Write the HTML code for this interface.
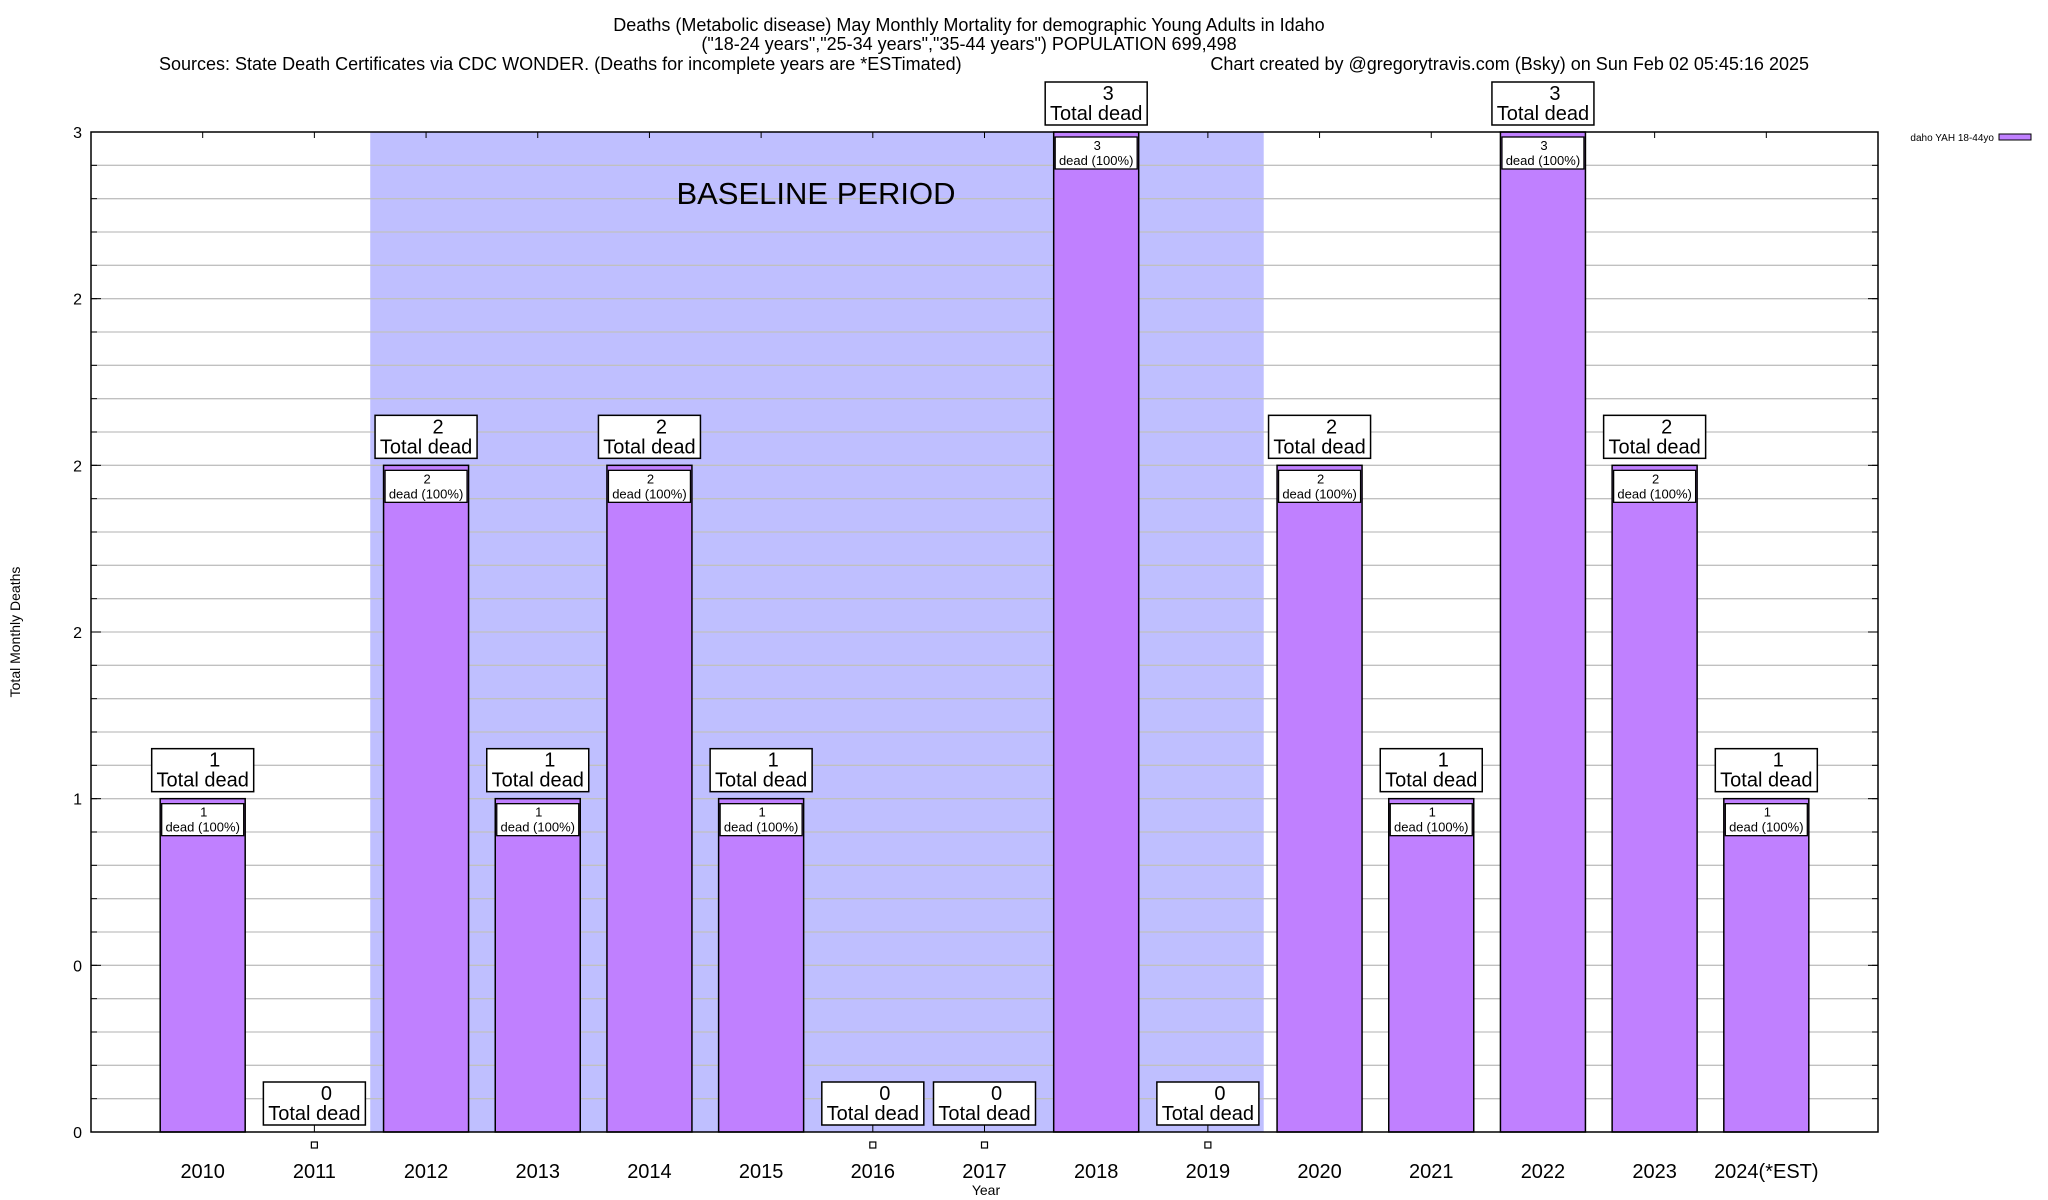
<!DOCTYPE html>
<html><head><meta charset="utf-8"><style>
html,body{margin:0;padding:0;background:#fff;}
svg{display:block;font-family:"Liberation Sans",sans-serif;}
</style></head><body>
<svg id="chart" width="2048" height="1200" viewBox="0 0 2048 1200" xmlns="http://www.w3.org/2000/svg">
<g font-size="18" text-anchor="middle" fill="#000">
<text x="969" y="31">Deaths (Metabolic disease) May Monthly Mortality for demographic Young Adults in Idaho</text>
<text x="969" y="50">("18-24 years","25-34 years","35-44 years") POPULATION 699,498</text>
<text x="159" y="70" text-anchor="start">Sources: State Death Certificates via CDC WONDER. (Deaths for incomplete years are *ESTimated)</text>
<text x="1809" y="70" text-anchor="end">Chart created by @gregorytravis.com (Bsky) on Sun Feb 02 05:45:16 2025</text>
</g>
<g id="layer"></g>
</svg>
<script>
const categories=["2010","2011","2012","2013","2014","2015","2016","2017","2018","2019","2020","2021","2022","2023","2024(*EST)"];
const deaths=[1,0,2,1,2,1,0,0,3,0,2,1,3,2,1];
const yTickValues=[0,0.5,1,1.5,2,2.5,3];
const yTickLabels=["0","0","1","2","2","2","3"];
const baselineStart=1.5, baselineEnd=9.5;

const L=91,R=1878,T=132,B=1132;
const xs=i=>L+(i+1)*(R-L)/16;
const ys=v=>B-v*(B-T)/3;
const NS="http://www.w3.org/2000/svg";
const layer=document.getElementById('layer');
function mk(tag,attrs,parent){const e=document.createElementNS(NS,tag);for(const k in attrs)e.setAttribute(k,attrs[k]);(parent||layer).appendChild(e);return e;}

// baseline shading
let sh=mk('rect',{x:xs(baselineStart),y:T,width:xs(baselineEnd)-xs(baselineStart),height:B-T,fill:'#bfbfff'});



// grid lines every 0.1
for(let k=1;k<30;k++){const v=k/10;
 let g=mk('line',{x1:L,x2:R,y1:ys(v),y2:ys(v),stroke:'#c0c0c0','stroke-width':1.3});
 
 
 mk('line',{x1:L,x2:L+6,y1:ys(v),y2:ys(v),stroke:'#000'});
 mk('line',{x1:R,x2:R-6,y1:ys(v),y2:ys(v),stroke:'#000'});
}
let bt=mk('text',{x:816,y:204,'font-size':31,'text-anchor':'middle'});bt.textContent='BASELINE PERIOD';


// y ticks
yTickValues.forEach((v,i)=>{
 mk('line',{x1:L,x2:L+10,y1:ys(v),y2:ys(v),stroke:'#000'});
 mk('line',{x1:R,x2:R-10,y1:ys(v),y2:ys(v),stroke:'#000'});
 let t=mk('text',{x:82,y:ys(v)+6,'font-size':16,'text-anchor':'end'});t.textContent=yTickLabels[i];
 
 
});

// bars
categories.forEach((c,i)=>{
 const cx=xs(i),v=deaths[i],bw=85;
 mk('line',{x1:cx,x2:cx,y1:T,y2:T+6,stroke:'#000'});
 let xl=mk('text',{x:cx,y:1178,'font-size':20,'text-anchor':'middle'});xl.textContent=c;
 
 
 if(v>0){
  let b=mk('rect',{x:cx-bw/2,y:ys(v),width:bw,height:B-ys(v),fill:'#c080ff',stroke:'#000','stroke-width':1.5});
  
  
  let sb=mk('rect',{x:cx-41,y:ys(v)+5,width:82,height:32,fill:'#fff',stroke:'#000','stroke-width':1.3});
  
  
  let s1=mk('text',{x:cx+1,y:ys(v)+18,'font-size':13,'text-anchor':'middle'});s1.textContent=v;
  let s2=mk('text',{x:cx,y:ys(v)+33,'font-size':13,'text-anchor':'middle'});s2.textContent='dead (100%)';
 } else {
  let m=mk('rect',{x:cx-3,y:1142,width:6,height:6,fill:'#fff',stroke:'#000','stroke-width':1.2});
  
  
  mk('line',{x1:cx,x2:cx,y1:B-7,y2:B,stroke:'#000'});
 }
 const top=ys(v)-7;
 let lb=mk('rect',{x:cx-51,y:top-43,width:102,height:43,fill:'#fff',stroke:'#000','stroke-width':1.5});
 
 
 let t1=mk('text',{x:cx+12,y:top-25,'font-size':20,'text-anchor':'middle'});t1.textContent=v;
 let t2=mk('text',{x:cx,y:top-5,'font-size':20,'text-anchor':'middle'});t2.textContent='Total dead';
});

// frame
let fr=mk('rect',{x:L,y:T,width:R-L,height:B-T,fill:'none',stroke:'#000','stroke-width':1.5});



let yt=mk('text',{x:0,y:0,'font-size':14,'text-anchor':'middle',transform:'translate(20,632) rotate(-90)'});yt.textContent='Total Monthly Deaths';


let xt=mk('text',{x:986,y:1195,'font-size':14,'text-anchor':'middle'});xt.textContent='Year';



// legend
let lt=mk('text',{x:1994,y:141,'font-size':10,'text-anchor':'end'});lt.textContent='daho YAH 18-44yo';


let lsw=mk('rect',{x:1999,y:134,width:32,height:6,fill:'#c080ff',stroke:'#000','stroke-width':1});


</script>
</body></html>
